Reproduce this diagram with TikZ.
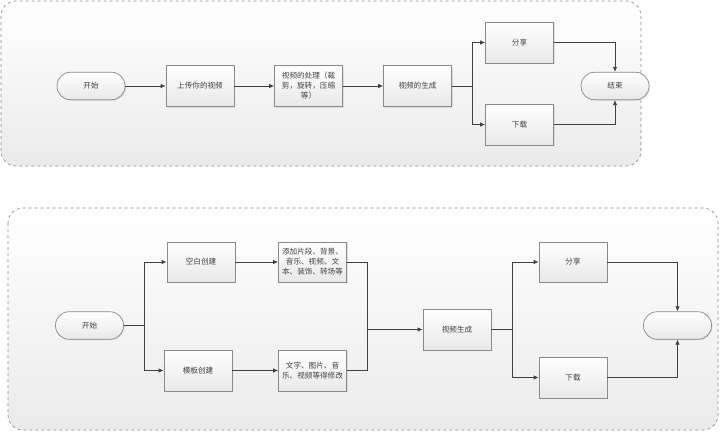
\documentclass[tikz,border=0pt]{standalone}
\usepackage{fontspec}
\newfontfamily\cjk{Noto Sans CJK SC}
\usetikzlibrary{arrows.meta,shadows}
\definecolor{linec}{HTML}{404040}
\definecolor{boxc}{HTML}{8A8A8A}
\definecolor{txtc}{HTML}{404040}
\tikzset{
  box/.style={draw=boxc, line width=0.7pt, top color=white, bottom color=black!9,
    minimum width=68pt, minimum height=41pt, inner sep=1pt, align=center,
    font=\cjk\fontsize{7.6}{10}\selectfont, text=txtc,
    drop shadow={shadow xshift=1pt, shadow yshift=-1pt, opacity=0.25, fill=black!40}},
  term/.style={box, rounded corners=13.5pt, minimum height=27.5pt},
  arr/.style={draw=linec, line width=0.8pt, -{Latex[length=5pt,width=4.5pt]}},
  ln/.style={draw=linec, line width=0.8pt},
  panel/.style={draw=black!45, dashed, line width=0.7pt, rounded corners=15pt,
    top color=white, bottom color=black!8}
}
\begin{document}
\begin{tikzpicture}[x=1pt,y=-1pt]
\useasboundingbox (0,0) rectangle (720,431);
% panels
\path[panel] (1,1) rectangle (641,166);
\path[panel] (8,208) rectangle (718,430);

% top flow
\node[term] (s1) at (91,86) {开始};
\node[box] (u1) at (200,86) {上传你的视频};
\node[box] (p1) at (308.5,86) {视频的处理（裁\\剪，旋转，压缩\\等）};
\node[box] (g1) at (417.5,86) {视频的生成};
\node[box] (sh1) at (519.5,42.5) {分享};
\node[box] (dl1) at (519.5,124.5) {下载};
\node[term] (e1) at (615,86) {结束};
\coordinate (b1) at (472,86);

\draw[arr] (s1) -- (u1);
\draw[arr] (u1) -- (p1);
\draw[arr] (p1) -- (g1);
\draw[ln] (g1) -- (b1);
\draw[arr] (b1) |- (sh1.west);
\draw[arr] (b1) |- (dl1.west);
\draw[arr] (sh1.east) -| (e1.north);
\draw[arr] (dl1.east) -| (e1.south);

% bottom flow
\node[term] (s2) at (89.5,325.5) {开始};
\node[box, minimum height=40pt] (k2) at (201,262) {空白创建};
\node[box] (m2) at (198,370.5) {模板创建};
\node[box, minimum height=40pt] (a2) at (312.5,262) {添加片段、背景、\\音乐、视频、文\\本、装饰、转场等};
\node[box] (w2) at (312.5,370.5) {文字、图片、音\\乐、视频等得修改};
\node[box] (g2) at (457,329.5) {视频生成};
\node[box, minimum height=40pt] (sh2) at (573,262) {分享};
\node[box] (dl2) at (573,377.5) {下载};
\node[term] (e2) at (677.5,325.5) {};
\coordinate (b2) at (144,325.5);
\coordinate (mg) at (367,329.5);
\coordinate (b3) at (512,329.5);

\draw[ln] (s2) -- (b2);
\draw[arr] (b2) |- (k2.west);
\draw[arr] (b2) |- (m2.west);
\draw[arr] (k2) -- (a2);
\draw[arr] (m2.east) -- (w2.west |- m2.east);
\draw[ln] (a2.east) -| (mg);
\draw[ln] (w2.east) -| (mg);
\draw[arr] (mg) -- (g2.west);
\draw[ln] (g2) -- (b3);
\draw[arr] (b3) |- (sh2.west);
\draw[arr] (b3) |- (dl2.west);
\draw[arr] (sh2.east) -| (e2.north);
\draw[arr] (dl2.east) -| (e2.south);
\end{tikzpicture}
\end{document}
